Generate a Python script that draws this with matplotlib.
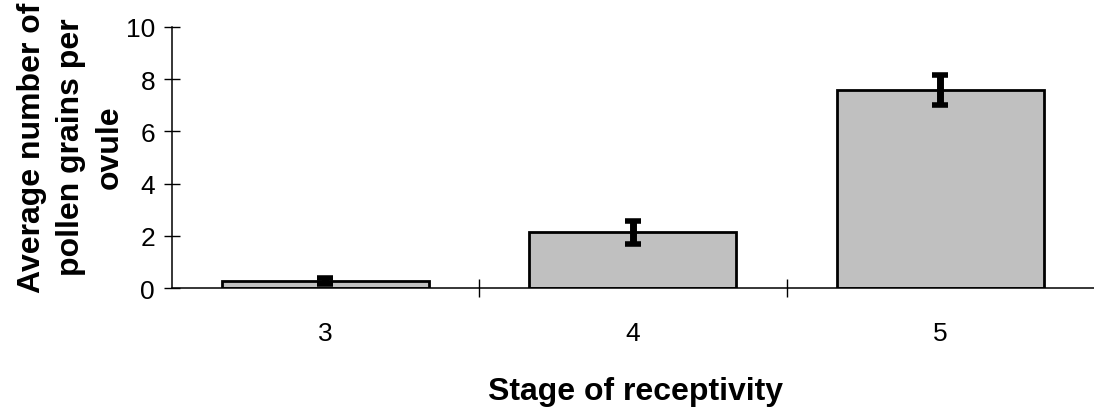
import matplotlib.pyplot as plt
import numpy as np

plt.rcParams['font.family'] = ['Liberation Sans', 'DejaVu Sans']

# data
stages = ['3', '4', '5']
means = [0.27, 2.13, 7.58]
errors = [0.12, 0.43, 0.56]

fig = plt.figure(figsize=(10.94, 4.10), dpi=100)
ax = fig.add_axes([0.157, 0.295, 0.843, 0.637])

x = np.arange(len(stages))
ax.bar(x, means, width=0.673, color='#c0c0c0', edgecolor='black', linewidth=2, zorder=2)
ax.errorbar(x, means, yerr=errors, fmt='none', ecolor='black', elinewidth=5,
            capsize=6, capthick=4, zorder=3)

ax.set_xlim(-0.5, 2.5)
ax.set_ylim(0, 10)
ax.set_yticks([0, 2, 4, 6, 8, 10])
ax.set_xticks([0.5, 1.5])
ax.set_xticks(x, minor=True)
ax.set_xticklabels([])
ax.set_xticklabels(stages, minor=True)
ax.tick_params(axis='x', which='major', direction='inout', length=13, width=1)
ax.tick_params(axis='x', which='minor', length=0, pad=24, labelsize=19)
ax.tick_params(axis='y', direction='inout', length=12, width=1, labelsize=19, pad=6)

for s in ['top', 'right']:
    ax.spines[s].set_visible(False)
for s in ['left', 'bottom']:
    ax.spines[s].set_linewidth(1.1)

fig.text(635 / 1094, 10 / 410, 'Stage of receptivity', fontsize=23, fontweight='bold',
         ha='center', va='baseline')
fig.text(71 / 1094, 0.64, 'Average number of\npollen grains per\novule', fontsize=23,
         fontweight='bold', rotation=90, ha='center', va='center', linespacing=1.4,
         multialignment='center')

fig.savefig('out.png', dpi=100)
